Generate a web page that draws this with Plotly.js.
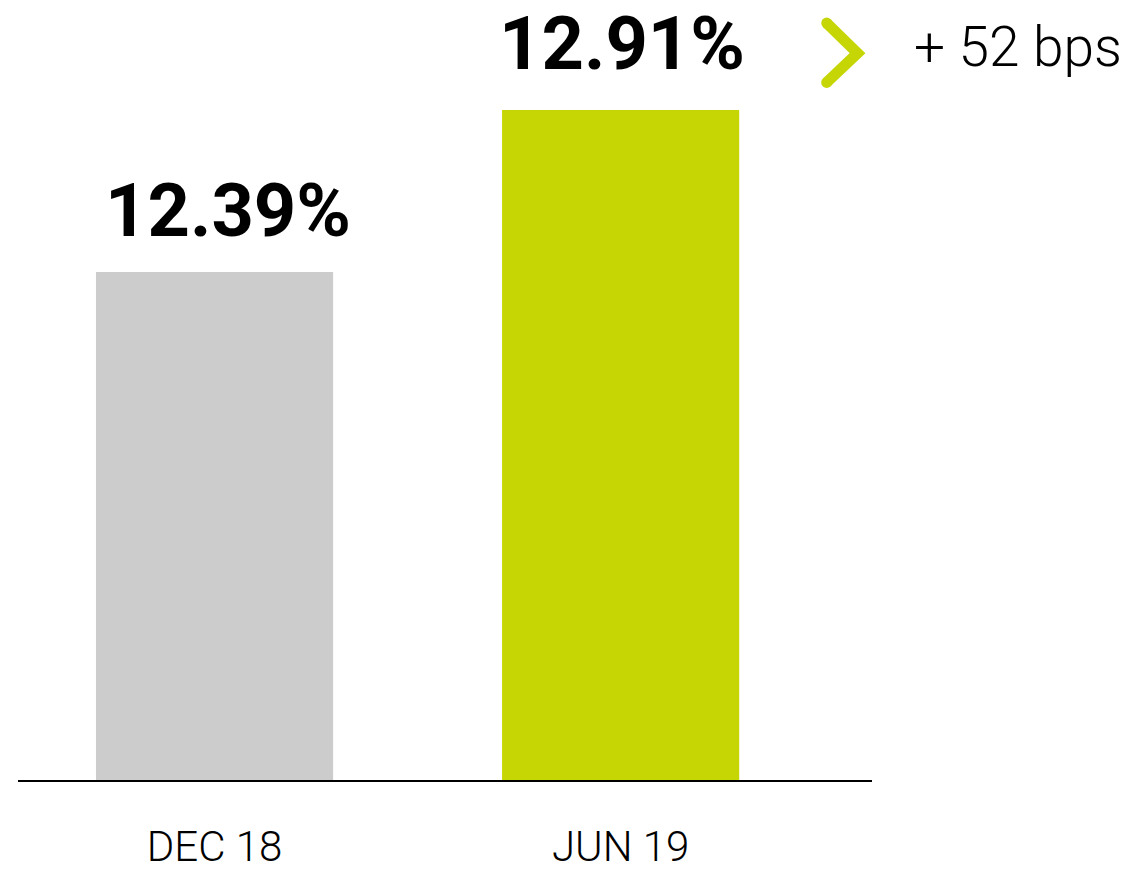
<!DOCTYPE html>
<html>
<head>
<meta charset="utf-8">
<script src="https://cdn.plot.ly/plotly-3.0.1.min.js"></script>
<style>html,body{margin:0;padding:0;background:#fff;}#chart{width:1127px;height:870px;}</style>
</head>
<body>
<div id="chart"></div>
<script>
const categories = ["DEC 18", "JUN 19"];
const values = [12.39, 12.91];
const valueLabels = ["12.39%", "12.91%"];
const barColors = ["#cccccc", "#c6d605"];
const changeLabel = "+ 52 bps";

const trace = {
  type: "bar",
  x: categories,
  y: values,
  width: 0.584,
  marker: { color: barColors },
  hoverinfo: "none"
};

const annotations = categories.map((c, i) => ({
  x: c, y: values[i], xref: "x", yref: "y",
  text: "<b>" + valueLabels[i] + "</b>",
  showarrow: false, yanchor: "bottom", xanchor: "center",
  xshift: i === 0 ? 13 : 1, yshift: i === 0 ? 16 : 21,
  font: { family: "Roboto, 'DejaVu Sans', sans-serif", size: 74, color: "#000" }
}));
annotations.push({
  x: 1.047, y: 0.952, xref: "paper", yref: "paper",
  text: changeLabel, showarrow: false, xanchor: "left", yanchor: "middle",
  font: { family: "Roboto, 'DejaVu Sans', sans-serif", size: 55, color: "#000", weight: 300 }
});

const green = barColors[1];
const shapes = [
  { type: "path", xref: "paper", yref: "paper",
    path: "M 0.947 0.983 L 0.983 0.944 L 0.947 0.906",
    line: { color: green, width: 11 } },
  { type: "circle", xref: "paper", yref: "paper", xsizemode: "pixel", ysizemode: "pixel",
    xanchor: 0.947, yanchor: 0.983, x0: -5.5, x1: 5.5, y0: -5.5, y1: 5.5,
    fillcolor: green, line: { width: 0 } },
  { type: "circle", xref: "paper", yref: "paper", xsizemode: "pixel", ysizemode: "pixel",
    xanchor: 0.947, yanchor: 0.906, x0: -5.5, x1: 5.5, y0: -5.5, y1: 5.5,
    fillcolor: green, line: { width: 0 } }
];

const layout = {
  width: 1127, height: 870,
  margin: { l: 18, r: 255, t: 10, b: 90 },
  paper_bgcolor: "#fff", plot_bgcolor: "#fff",
  showlegend: false,
  xaxis: {
    type: "category", range: [-0.484, 1.619],
    showline: true, linecolor: "#000", linewidth: 2,
    showgrid: false, zeroline: false,
    ticks: "outside", ticklen: 29, tickcolor: "rgba(0,0,0,0)",
    tickfont: { family: "Roboto, 'DejaVu Sans', sans-serif", size: 42, color: "#000", weight: 300 },
    fixedrange: true
  },
  yaxis: {
    range: [10.759, 13.231], visible: false, showgrid: false, zeroline: false, fixedrange: true
  },
  annotations: annotations,
  shapes: shapes
};

Plotly.newPlot("chart", [trace], layout, { displayModeBar: false, staticPlot: true });
</script>
</body>
</html>
